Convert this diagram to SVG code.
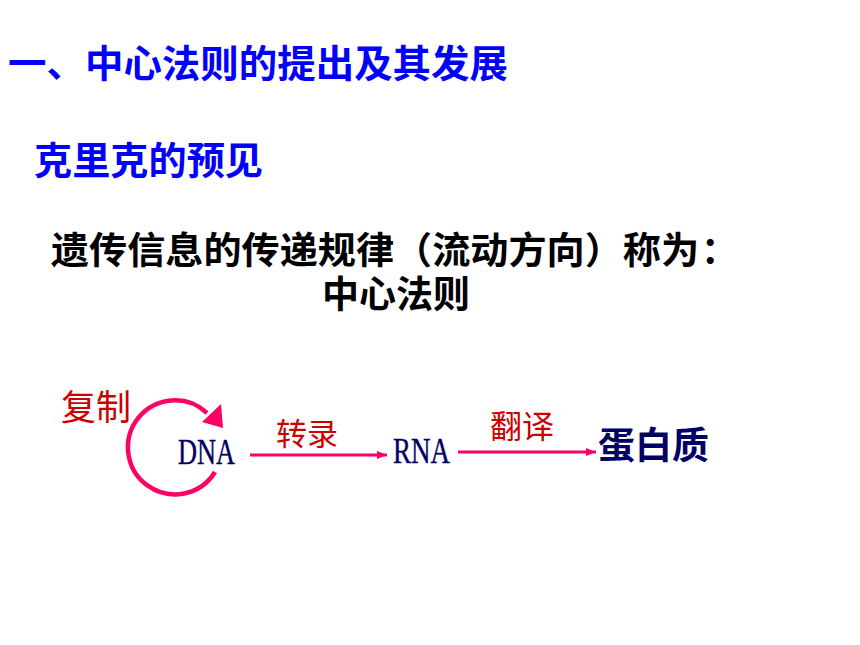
<svg xmlns="http://www.w3.org/2000/svg" width="860" height="645" viewBox="0 0 860 645">
<defs>
<style>
.cjk{font-family:"Noto Sans CJK SC","Noto Sans",sans-serif;font-weight:bold}
.blue{fill:#0000FF}
.black{fill:#000000}
.red{font-family:"Noto Sans CJK SC",sans-serif;font-weight:normal;fill:#CC0000}
.navy{fill:#000066}
.lat{font-family:"Liberation Serif",serif;font-size:36px;fill:#000066;stroke:#000066;stroke-width:0.4}
.conn{stroke:#FF0066;fill:none}
</style>
<marker id="ah" viewBox="0 0 10 10" refX="10" refY="5" markerWidth="10" markerHeight="8" markerUnits="userSpaceOnUse" orient="auto" preserveAspectRatio="none">
<path d="M0,0 L10,5 L0,10 Z" fill="#FF0066"/>
</marker>
</defs>
<rect width="860" height="645" fill="#FFFFFF"/>
<g id="title">
<text class="cjk blue" x="8" y="77" font-size="38" textLength="500" lengthAdjust="spacingAndGlyphs">一、中心法则的提出及其发展</text>
</g>
<g id="subtitle">
<text class="cjk blue" x="34" y="174" font-size="38" textLength="229" lengthAdjust="spacingAndGlyphs">克里克的预见</text>
</g>
<g id="statement">
<text class="cjk black" x="51" y="264" font-size="37" textLength="648" lengthAdjust="spacingAndGlyphs">遗传信息的传递规律（流动方向）称为</text>
<text class="cjk black" x="701" y="264" font-size="37">：</text>
<text class="cjk black" x="396" y="308" font-size="37" text-anchor="middle">中心法则</text>
</g>
<g id="connectors">
<path class="conn" stroke-width="4.5" d="M 215 472 A 47 47 0 1 1 207 413"/>
<path d="M 221 404 L 223 428 L 202 422 Z" fill="#FF0066"/>
<line class="conn" stroke-width="3" x1="250" y1="455" x2="387" y2="455" marker-end="url(#ah)"/>
<line class="conn" stroke-width="3" x1="458" y1="452" x2="596" y2="452" marker-end="url(#ah)"/>
</g>
<g id="label-replication">
<text class="red" x="61" y="420" font-size="35">复制</text>
</g>
<g id="node-dna">
<text class="lat" x="178" y="464" textLength="57" lengthAdjust="spacingAndGlyphs">DNA</text>
</g>
<g id="label-transcription">
<text class="red" x="276" y="445" font-size="31">转录</text>
</g>
<g id="node-rna">
<text class="lat" x="393" y="463" textLength="57" lengthAdjust="spacingAndGlyphs">RNA</text>
</g>
<g id="label-translation">
<text class="red" x="490" y="438" font-size="32">翻译</text>
</g>
<g id="node-protein">
<text class="cjk navy" x="598" y="459" font-size="37">蛋白质</text>
</g>
</svg>
